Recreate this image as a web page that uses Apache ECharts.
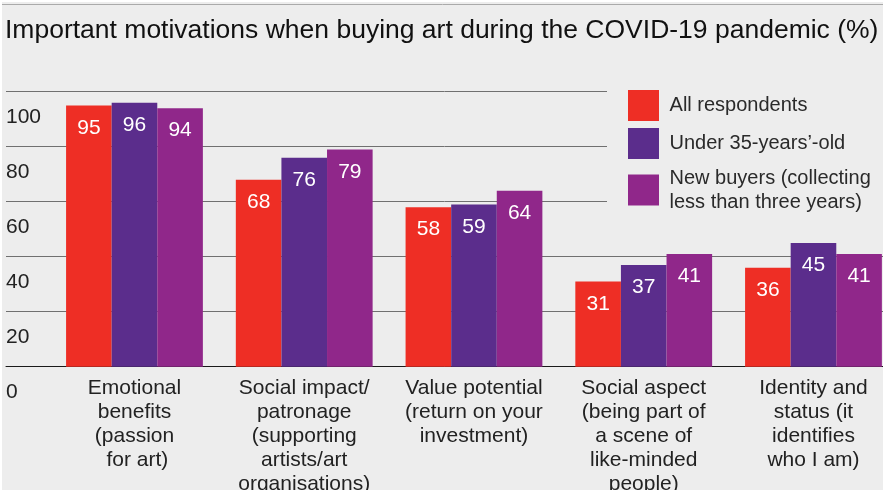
<!DOCTYPE html>
<html>
<head>
<meta charset="utf-8">
<script src="https://cdn.jsdelivr.net/npm/echarts@6/dist/echarts.min.js"></script>
<style>
  html, body { margin: 0; padding: 0; background: #fff; }
  #chart {
    width: 883px; height: 490px;
    background: #ededed;
    box-shadow: inset 2px 2px 0 0 #fff;
  }
</style>
</head>
<body>
<div id="chart"></div>
<script>
// Survey categories (x axis)
const categories = [
  'Emotional\nbenefits\n(passion\n for art)',
  'Social impact/\npatronage\n(supporting\nartists/art\norganisations)',
  'Value potential\n(return on your\ninvestment)',
  'Social aspect\n(being part of\na scene of\nlike-minded\npeople)',
  'Identity and\nstatus (it\nidentifies\nwho I am)'
];

// Share of respondents (%) per group
const allRespondents = [95, 68, 58, 31, 36];
const under35 = [96, 76, 59, 37, 45];
const newBuyers = [94, 79, 64, 41, 41];

const seriesNames = [
  'All respondents',
  'Under 35-years\u2019-old',
  'New buyers (collecting\nless than three years)'
];
const seriesColors = ['#ee2e25', '#5b2d8c', '#90278a'];

const yMin = 0, yMax = 100, yStep = 20;

const FONT = '"Liberation Sans", Arial, Helvetica, sans-serif';
const chart = echarts.init(document.getElementById('chart'), null, { renderer: 'canvas' });

const plotTop = 91.7;
const plotHeight = 275;

function barSeries(name, data, color) {
  return {
    name: name,
    type: 'bar',
    xAxisIndex: 1,
    yAxisIndex: 1,
    data: data,
    barWidth: 45.6,
    barGap: '0%',
    itemStyle: { color: color },
    label: {
      show: true,
      position: 'insideTop',
      distance: 12,
      color: '#ffffff',
      fontSize: 21,
      fontFamily: FONT
    },
    emphasis: { disabled: true }
  };
}

chart.setOption({
  backgroundColor: 'transparent',
  animation: false,
  title: {
    text: 'Important motivations when buying art during the COVID-19 pandemic (%)',
    left: 5,
    top: 17,
    padding: 0,
    textStyle: { fontFamily: FONT, fontSize: 26.5, fontWeight: 'normal', color: '#111' }
  },
  graphic: [{
    type: 'line',
    shape: { x1: 2, y1: 4.5, x2: 883, y2: 4.5 },
    style: { stroke: '#aaaaaa', lineWidth: 1 },
    silent: true
  }],
  legend: {
    orient: 'vertical',
    left: 607,
    top: 82,
    padding: [8, 30, 4, 21],
    backgroundColor: '#ededed',
    itemWidth: 31,
    itemHeight: 31,
    itemGap: 7,
    icon: 'rect',
    selectedMode: false,
    data: seriesNames,
    formatter: function (name) {
      return name.split('\n').map(function (s) { return ' ' + s; }).join('\n');
    },
    textStyle: { fontFamily: FONT, fontSize: 20, lineHeight: 24, color: '#2a2a2a' }
  },
  grid: [
    // Gridlines and value labels span the full width
    { left: 6, width: 877, top: plotTop, height: plotHeight, outerBoundsMode: 'none', containLabel: false },
    // Bars
    { left: 49.6, width: 848.75, top: plotTop, height: plotHeight, outerBoundsMode: 'none', containLabel: false }
  ],
  xAxis: [
    {
      type: 'value', gridIndex: 0, min: 0, max: 1,
      axisLine: { show: true, lineStyle: { color: '#1a1a1a', width: 1 } },
      axisTick: { show: false }, axisLabel: { show: false }, splitLine: { show: false }
    },
    {
      type: 'category', gridIndex: 1, data: categories,
      axisLine: { show: false }, axisTick: { show: false },
      axisLabel: {
        interval: 0, margin: 10, color: '#222',
        fontFamily: FONT, fontSize: 21, lineHeight: 24, align: 'center'
      }
    }
  ],
  yAxis: [
    {
      type: 'value', gridIndex: 0, min: yMin, max: yMax, interval: yStep,
      axisLine: { show: false }, axisTick: { show: false },
      splitLine: { show: true, lineStyle: { color: '#707070', width: 1 } },
      axisLabel: {
        inside: false, margin: 0, align: 'left', verticalAlign: 'top',
        padding: [15, 0, 0, 0],
        color: '#222', fontFamily: FONT, fontSize: 21
      }
    },
    {
      type: 'value', gridIndex: 1, min: yMin, max: yMax, interval: yStep,
      show: false, splitLine: { show: false }
    }
  ],
  series: [
    barSeries(seriesNames[0], allRespondents, seriesColors[0]),
    barSeries(seriesNames[1], under35, seriesColors[1]),
    barSeries(seriesNames[2], newBuyers, seriesColors[2])
  ]
});
</script>
</body>
</html>
